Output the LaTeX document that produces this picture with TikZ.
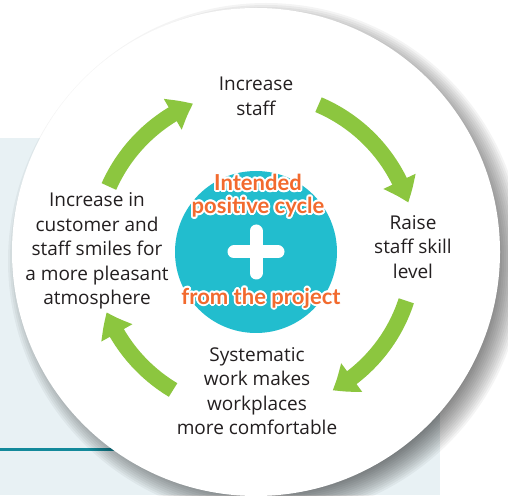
\documentclass[tikz,border=0pt]{standalone}
\usepackage{fontspec}
\setmainfont{Open Sans}
\newfontfamily\roundfont{Lato}
\usepackage{contour}
\contourlength{1.8pt}
\usetikzlibrary{arrows.meta,bending}

\definecolor{leaf}{HTML}{8CC63F}
\definecolor{lagoon}{HTML}{22BDCE}
\definecolor{tangerine}{HTML}{F26A2E}
\definecolor{panel}{HTML}{E8F1F4}
\definecolor{tealrule}{HTML}{13899A}
\definecolor{ink}{HTML}{231F20}

\begin{document}
\begin{tikzpicture}[x=1pt,y=1pt,
    cyclelabel/.style={align=center,text=ink,inner sep=0pt,
      font=\fontsize{19}{24.5}\selectfont},
    headline/.style={align=center,text=tangerine,inner sep=0pt,
      font=\roundfont\bfseries\fontsize{22}{23}\selectfont},
    cyclearrow/.style={draw=leaf,line width=16pt,
      -{Triangle[width=34pt,length=23pt,bend]}}]
  \useasboundingbox (0,0) rectangle (508,495);

  % panel behind the disc
  \fill[panel] (0,0) rectangle (440,357);
  \fill[tealrule] (0,44.5) rectangle (140,47.5);

  % soft shadow of the disc
  \foreach \r in {228,230,...,258}
    \fill[black,opacity=0.045] (266,234) circle (\r);

  \node[circle,fill=white,minimum size=488pt,inner sep=0pt] (disc) at (256,243) {};
  \node[circle,fill=lagoon,minimum size=162pt,inner sep=0pt] (hub) at (256,243) {};

  % plus sign
  \draw[white,line width=13pt,line cap=round]
    ([yshift=-21]hub.center) -- ([yshift=21]hub.center)
    ([xshift=-22]hub.center) -- ([xshift=22]hub.center);

  \node[headline] (intended) at (258,298.5)
    {\contour{white}{Intended}\\\contour{white}{positive cycle}};
  \node[headline] (project) at (261,196) {\contour{white}{from the project}};

  % the four steps
  \node[cyclelabel] (staff) at (256,398.5) {Increase\\staff};
  \node[cyclelabel] (skill) at (413,248) {Raise\\staff skill\\level};
  \node[cyclelabel] (comfort) at (257,104) {Systematic\\work makes\\workplaces\\more comfortable};
  \node[cyclelabel] (smiles) at (97,244) {Increase in\\customer and\\staff smiles for\\a more pleasant\\atmosphere};

  % arrows round the hub
  \draw[cyclearrow] ([shift={(67:160)}]hub.center) arc[start angle=67,end angle=18,radius=160];
  \draw[cyclearrow] ([shift={(-18:158)}]hub.center) arc[start angle=-18,end angle=-61,radius=158];
  \draw[cyclearrow] ([shift={(-121:161)}]hub.center) arc[start angle=-121,end angle=-158,radius=161];
  \draw[cyclearrow] ([shift={(156:161)}]hub.center) arc[start angle=156,end angle=113,radius=161];
\end{tikzpicture}
\end{document}
